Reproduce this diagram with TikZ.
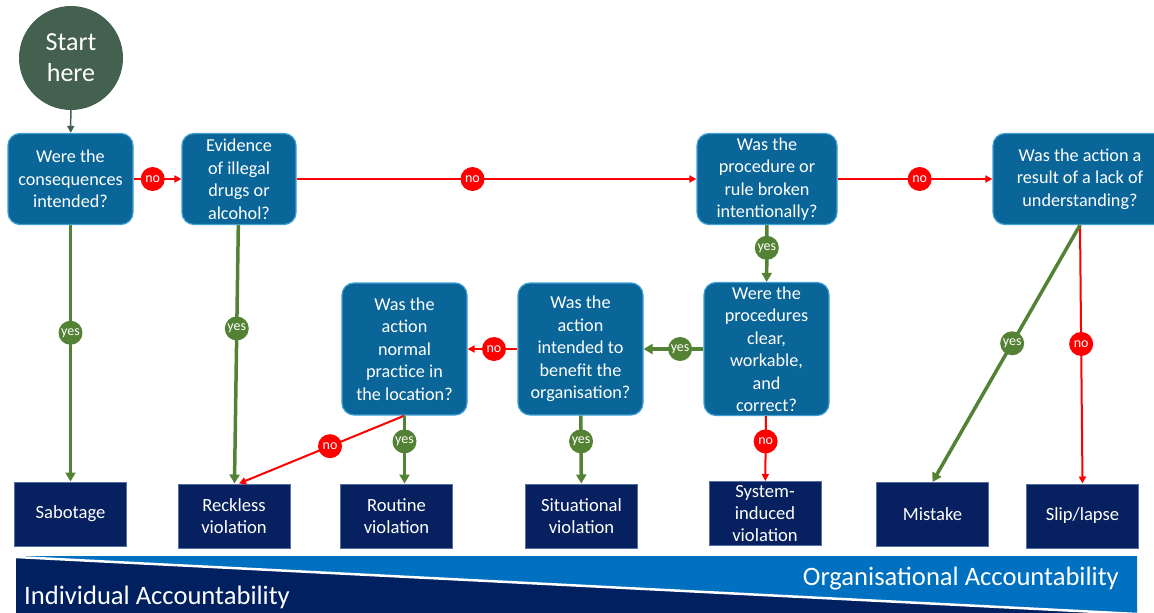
\documentclass[tikz,border=0pt]{standalone}
\usepackage{fontspec}
\setmainfont{Carlito}
\usetikzlibrary{arrows.meta}
\definecolor{qblue}{RGB}{10,101,152}
\definecolor{qedge}{RGB}{64,160,214}
\definecolor{navy}{RGB}{6,32,96}
\definecolor{navyedge}{RGB}{84,112,160}
\definecolor{yesgreen}{RGB}{84,130,53}
\definecolor{nored}{RGB}{255,0,0}
\definecolor{startgreen}{RGB}{68,96,78}
\definecolor{bandblue}{RGB}{0,112,192}
\definecolor{bandnavy}{RGB}{0,32,96}
\tikzset{
  question/.style={draw=qedge, line width=1.2pt, fill=qblue, rounded corners=12pt,
    text=white, align=center, inner sep=0pt, font=\fontsize{18.2}{22.5}\selectfont},
  outcome/.style={draw=navyedge, line width=1pt, fill=navy, text=white, align=center,
    inner sep=0pt, minimum width=112pt, minimum height=64pt, font=\fontsize{18.6}{22}\selectfont},
  startnode/.style={circle, fill=startgreen, text=white, align=center, inner sep=0pt,
    minimum size=104pt, font=\fontsize{26}{31}\selectfont},
  yesline/.style={draw=yesgreen, line width=3.5pt, -{Triangle[length=9pt,width=10pt]}},
  noline/.style={draw=nored, line width=2pt, -{Triangle[length=7pt,width=7pt]}},
  yeslbl/.style={circle, fill=yesgreen, text=white, inner sep=0pt, minimum size=24pt,
    font=\fontsize{14}{14}\selectfont},
  nolbl/.style={yeslbl, fill=nored},
  bandtext/.style={text=white, inner sep=0pt, font=\fontsize{26.6}{26.6}\selectfont},
}
\begin{document}
\begin{tikzpicture}[x=1pt,y=-1pt]
  \useasboundingbox (0,0) rectangle (1154,613);
  \clip (0,0) rectangle (1154,613);
  % accountability band
  \fill[bandnavy] (16,556) rectangle (1137,620);
  \fill[bandblue] (16,556) -- (1137,556) -- (1137,614) -- cycle;
  \draw[white, line width=2.5pt] (16,557) -- (1137,614);
  \draw
    (24,604) node[bandtext, anchor=base west] (indiv){Individual Accountability}
    (1119,585) node[bandtext, anchor=base east] (organ){Organisational Accountability};
  % questions
  \draw
    (71,58) node[startnode] (start){Start\\here}
    (70.5,179) node[question, minimum width=125pt, minimum height=91pt] (q1){Were the\\consequences\\intended?}
    (239,179) node[question, minimum width=114pt, minimum height=91pt] (q2){Evidence\\of illegal\\drugs or\\alcohol?}
    (767,179) node[question, minimum width=140pt, minimum height=91pt] (q3){Was the\\procedure or\\rule broken\\intentionally?}
    (1080,179) node[question, minimum width=174pt, minimum height=91pt] (q4){Was the action a\\result of a lack of\\understanding?}
    (766.5,349) node[question, minimum width=125pt, minimum height=133pt] (q5){Were the\\procedures\\clear,\\workable,\\and\\correct?}
    (580.5,349) node[question, minimum width=125pt, minimum height=132pt] (q6){Was the\\action\\intended to\\benefit the\\organisation?}
    (404.5,349) node[question, minimum width=125pt, minimum height=132pt] (q7){Was the\\action\\normal\\practice in\\the location?};
  % outcomes
  \draw
    (70.5,514) node[outcome] (sabotage){Sabotage}
    (234,516) node[outcome] (reckless){Reckless\\violation}
    (396.5,516) node[outcome] (routine){Routine\\violation}
    (581.5,516) node[outcome] (situational){Situational\\violation}
    (765,513.5) node[outcome] (system){System-\\induced\\violation}
    (932.5,514.5) node[outcome] (mistake){Mistake}
    (1082.5,516) node[outcome] (slip){Slip/lapse};
  \draw[startgreen, line width=1.5pt, -{Triangle[length=7pt,width=7pt]}] (start) to (q1);
  \begin{scope}[noline]
    \draw (q1) to node[nolbl, pos=.4]{no} (q2);
    \draw (q2) to node[nolbl, pos=.44]{no} (q3);
    \draw (q3) to node[nolbl, pos=.53]{no} (q4);
    \draw (q6) to node[nolbl, pos=.47]{no} (q7);
    \draw (q7.south) to node[nolbl, pos=.45]{no} ([xshift=5pt]reckless.north);
    \draw (q5) to node[nolbl, pos=.39]{no} (system);
    \draw (q4.south) to node[nolbl, pos=.46]{no} (slip.north);
  \end{scope}
  \begin{scope}[yesline]
    \draw (q1) to node[yeslbl, pos=.42]{yes} (sabotage);
    \draw (q2) to node[yeslbl, pos=.4]{yes} (reckless);
    \draw (q3) to node[yeslbl, pos=.4]{yes} (q5);
    \draw (q5) to node[yeslbl, pos=.39]{yes} (q6);
    \draw (q7.south) to node[yeslbl, pos=.38]{yes} (q7.south |- routine.north);
    \draw (q6) to node[yeslbl, pos=.38]{yes} (situational);
    \draw (q4.south) to node[yeslbl, pos=.46]{yes} (mistake.north);
  \end{scope}
\end{tikzpicture}
\end{document}
